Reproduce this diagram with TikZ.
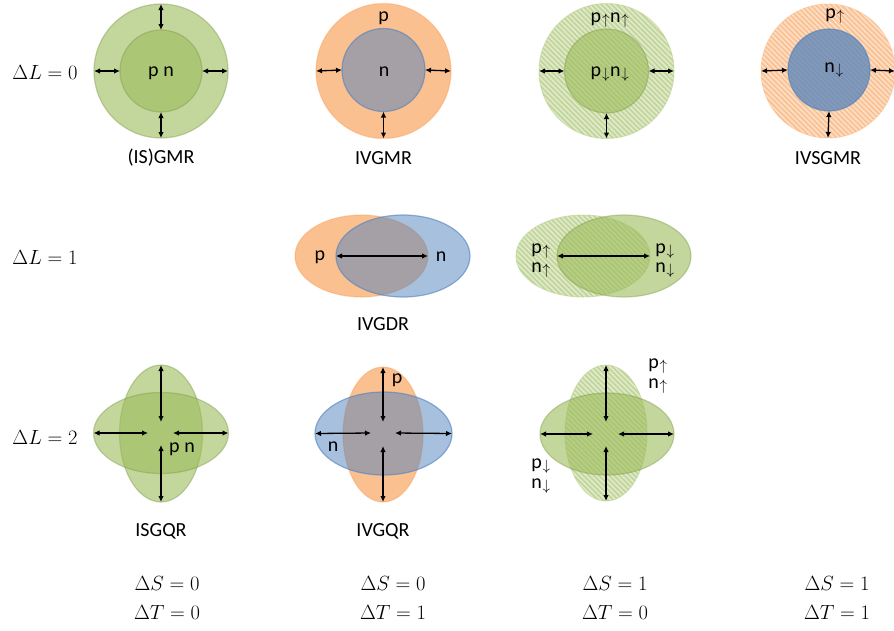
\RequirePackage{fix-cm}
\documentclass[tikz,border=0pt]{standalone}
\usepackage{fontspec}
\setmainfont{Carlito}
\usetikzlibrary{shapes.geometric,arrows.meta,patterns.meta}
\definecolor{gr}{RGB}{155,187,89}
\definecolor{orng}{RGB}{247,150,70}
\definecolor{blu}{RGB}{79,129,189}
\newcommand\upsub{\kern0.8pt\raisebox{-2.5pt}{\fontsize{15}{15}\selectfont$\uparrow$}\kern0.5pt}
\newcommand\dnsub{\kern0.8pt\raisebox{-2.5pt}{\fontsize{15}{15}\selectfont$\downarrow$}\kern0.5pt}
\begin{document}
\begin{tikzpicture}[x=1pt,y=-1pt,
  every node/.style={inner sep=0pt, outer sep=0pt},
  lbl/.style={font=\fontsize{20}{24}\selectfont},
  mth/.style={font=\fontsize{20.5}{24}\selectfont},
  circ/.style={circle, minimum size=#1},
  ell/.style 2 args={ellipse, minimum width=#1, minimum height=#2},
  sgreen/.style={fill=gr, fill opacity=0.6, draw=gr!80!black, draw opacity=0.4, line width=1.2pt},
  hgreen/.style={preaction={fill=gr, fill opacity=0.3},
     pattern={Lines[angle=-45,distance=3.6pt,line width=1.8pt]}, pattern color=gr!90, draw=gr!70, draw opacity=0.5, line width=1pt},
  sorange/.style={fill=orng, fill opacity=0.6, draw=orng, draw opacity=0.35, line width=1.2pt},
  horange/.style={preaction={fill=orng, fill opacity=0.3},
     pattern={Lines[angle=-45,distance=3.6pt,line width=1.8pt]}, pattern color=orng, draw=orng!70, draw opacity=0.4, line width=1pt},
  sblue/.style={fill=blu, fill opacity=0.5, draw=blu, draw opacity=0.6, line width=1.2pt},
  dblue/.style={fill=blu, fill opacity=0.72, draw=blu, draw opacity=0.6, line width=1.2pt},
  dar/.style={{Latex[length=6pt,width=5.5pt]}-{Latex[length=6pt,width=5.5pt]}, line width=1.3pt, black},
]
\useasboundingbox (0,0) rectangle (894,630);

% ---------- row labels ----------
\node[mth] (r0) at (45,72) {$\Delta L = 0$};
\node[mth] (r1) at (45,257) {$\Delta L = 1$};
\node[mth] (r2) at (45,437) {$\Delta L = 2$};

% ---------- row 1 ----------
% (IS)GMR
\node[circ=134pt, sgreen] (a1o) at (161,71) {};
\node[circ=82pt, sgreen] (a1i) at (161,71) {};
\draw[dar] (a1o.north) -- (a1i.north);
\draw[dar] (a1o.south) -- (a1i.south);
\draw[dar] (a1o.west) -- (a1i.west);
\draw[dar] (a1o.east) -- (a1i.east);
\node[lbl] (a1t) at (161,73) {p n};
\node[lbl] (a1l) at (161,158) {(IS)GMR};

% IVGMR
\node[circ=135pt, sorange] (a2o) at (383.5,71) {};
\node[circ=83pt, sblue] (a2i) at (383.5,70) {};
\draw[dar] (a2o.south) -- (a2i.south);
\draw[dar] (a2o.west) -- (a2i.west);
\draw[dar] (a2o.east) -- (a2i.east);
\node[lbl] (a2p) at (383.5,18) {p};
\node[lbl] (a2n) at (384,72) {n};
\node[lbl] (a2l) at (383.5,158) {IVGMR};

% spin green
\node[circ=135pt, hgreen] (a3o) at (606.5,71) {};
\node[circ=84pt, sgreen] (a3i) at (606.5,71) {};
\draw[dar] (a3o.south) -- (a3i.south);
\draw[dar] (a3o.west) -- (a3i.west);
\draw[dar] (a3o.east) -- (a3i.east);
\node[lbl] (a3u) at (610,20) {p\upsub n\upsub};
\node[lbl] (a3d) at (610,74) {p\dnsub n\dnsub};

% IVSGMR
\node[circ=134pt, horange] (a4o) at (828,71) {};
\node[circ=82pt, dblue] (a4i) at (829,70) {};
\draw[dar] (a4o.south) -- (a4i.south);
\draw[dar] (a4o.west) -- (a4i.west);
\draw[dar] (a4o.east) -- (a4i.east);
\node[lbl] (a4u) at (835,16) {p\upsub};
\node[lbl] (a4d) at (834,70) {n\dnsub};
\node[lbl] (a4l) at (828,158) {IVSGMR};

% ---------- row 2 ----------
\node[ell={133pt}{82pt}, sorange] (b1o) at (361.5,256) {};
\node[ell={134pt}{82pt}, sblue] (b1b) at (403,256) {};
\draw[dar] (b1b.west) -- (b1o.east);
\node[lbl] (b1p) at (320,257) {p};
\node[lbl] (b1n) at (441,257) {n};
\node[lbl] (b1l) at (383,324) {IVGDR};

\node[ell={134pt}{82pt}, hgreen] (b2h) at (583,256) {};
\node[ell={134pt}{82pt}, sgreen] (b2s) at (624,256) {};
\draw[dar] (b2s.west) -- (b2h.east);
\node[lbl] (b2pu) at (541,251) {p\upsub};
\node[lbl] (b2nu) at (541,270) {n\upsub};
\node[lbl] (b2pd) at (665,251) {p\dnsub};
\node[lbl] (b2nd) at (665,270) {n\dnsub};

% ---------- row 3 ----------
% ISGQR
\node[ell={83pt}{137pt}, sgreen] (c1v) at (161,433.5) {};
\node[ell={135pt}{81pt}, sgreen] (c1h) at (161,433) {};
\coordinate (c1t) at (161,422);
\coordinate (c1b) at (161,445);
\coordinate (c1l) at (148,433);
\coordinate (c1r) at (173,433);
\draw[dar] (c1v.north) -- (c1t);
\draw[dar] (c1v.south) -- (c1b);
\draw[dar] (c1h.west) -- (c1l);
\draw[dar] (c1h.east) -- (c1r);
\node[lbl] (c1pn) at (182,449) {p n};
\node[lbl] (c1lab) at (161,531) {ISGQR};

% IVGQR
\node[ell={80pt}{135pt}, sorange] (c2v) at (383,434.5) {};
\node[ell={137pt}{83pt}, sblue] (c2h) at (383.5,433.5) {};
\coordinate (c2t) at (383,422);
\coordinate (c2b) at (383,446);
\coordinate (c2l) at (371,433);
\coordinate (c2r) at (395,433);
\draw[dar] (c2v.north) -- (c2t);
\draw[dar] (c2v.south) -- (c2b);
\draw[dar] (c2h.west) -- (c2l);
\draw[dar] (c2h.east) -- (c2r);
\node[lbl] (c2p) at (397,380) {p};
\node[lbl] (c2n) at (333,447) {n};
\node[lbl] (c2lab) at (383,531) {IVGQR};

% spin quadrupole
\node[ell={82pt}{136pt}, hgreen] (c3v) at (606,433) {};
\node[ell={134pt}{82pt}, sgreen] (c3h) at (607,434) {};
\coordinate (c3t) at (606,422);
\coordinate (c3b) at (606,446);
\coordinate (c3l) at (593,434);
\coordinate (c3r) at (618,434);
\draw[dar] (c3v.north) -- (c3t);
\draw[dar] (c3v.south) -- (c3b);
\draw[dar] (c3h.west) -- (c3l);
\draw[dar] (c3h.east) -- (c3r);
\node[lbl] (c3pu) at (658,366) {p\upsub};
\node[lbl] (c3nu) at (658,386) {n\upsub};
\node[lbl] (c3pd) at (541,466) {p\dnsub};
\node[lbl] (c3nd) at (541,486) {n\dnsub};

% ---------- bottom labels ----------
\node[mth] (s1) at (167,583) {$\Delta S = 0$};
\node[mth] (t1) at (167,612) {$\Delta T = 0$};
\node[mth] (s2) at (393,583) {$\Delta S = 0$};
\node[mth] (t2) at (393,612) {$\Delta T = 1$};
\node[mth] (s3) at (615,583) {$\Delta S = 1$};
\node[mth] (t3) at (615,612) {$\Delta T = 0$};
\node[mth] (s4) at (837,583) {$\Delta S = 1$};
\node[mth] (t4) at (837,612) {$\Delta T = 1$};
\end{tikzpicture}
\end{document}
